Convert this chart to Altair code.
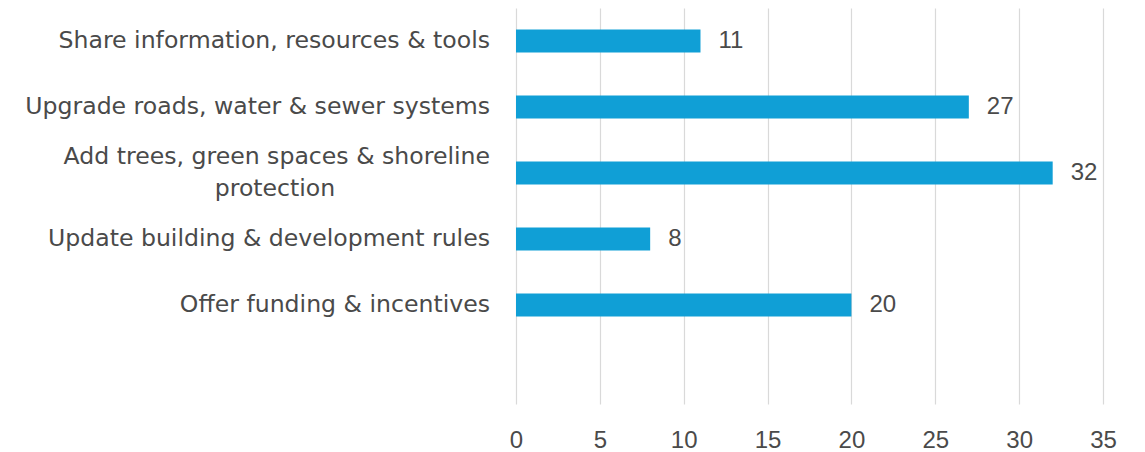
import altair as alt
import pandas as pd

categories = [
    "Share information, resources & tools",
    "Upgrade roads, water & sewer systems",
    "Add trees, green spaces & shoreline protection",
    "Update building & development rules",
    "Offer funding & incentives",
]
values = [11, 27, 32, 8, 20]
line1 = [
    "Share information, resources & tools",
    "Upgrade roads, water & sewer systems",
    "Add trees, green spaces & shoreline",
    "Update building & development rules",
    "Offer funding & incentives",
]
line2 = ["", "", "protection", "", ""]
x_ticks = [0, 5, 10, 15, 20, 25, 30, 35]

domain = categories + [" "]

df = pd.DataFrame({"cat": categories, "val": values, "l1": line1, "l2": line2})

LFONT = "DejaVu Sans"
LFS = 23.6
NFONT = "Liberation Sans"
NFS = 24
TXT = "#4a4a4a"
BLUE = "#109FD6"

y_enc = alt.Y("cat:N", sort=domain,
              scale=alt.Scale(domain=domain, paddingInner=0.65, paddingOuter=0.325),
              axis=None)
x_enc = alt.X("val:Q",
              scale=alt.Scale(domain=[0, 35], nice=False),
              axis=alt.Axis(values=x_ticks, title=None, domain=False, ticks=False,
                            grid=True, gridColor="#d9d9d9", gridWidth=1.2,
                            labelFont=NFONT, labelFontSize=NFS, labelColor=TXT,
                            labelFlush=False, labelPadding=24))

base = alt.Chart(df)

bars = base.mark_bar(color=BLUE).encode(x=x_enc, y=y_enc)

vals = base.mark_text(align="left", baseline="middle", dx=18, font=NFONT,
                      fontSize=NFS, color=TXT).encode(
    x="val:Q", y=alt.Y("cat:N", sort=domain), text="val:Q")

single = base.transform_filter("datum.l2 == ''").mark_text(
    align="right", baseline="middle", font=LFONT, fontSize=LFS, color=TXT).encode(
    x=alt.value(-26), y=alt.Y("cat:N", sort=domain), text="l1:N")

multi1 = base.transform_filter("datum.l2 != ''").mark_text(
    align="right", baseline="middle", dy=-16, font=LFONT, fontSize=LFS, color=TXT).encode(
    x=alt.value(-26), y=alt.Y("cat:N", sort=domain), text="l1:N")

multi2 = base.transform_filter("datum.l2 != ''").mark_text(
    align="center", baseline="middle", dy=16, font=LFONT, fontSize=LFS, color=TXT).encode(
    x=alt.value(-241), y=alt.Y("cat:N", sort=domain), text="l2:N")

chart = alt.layer(bars, vals, single, multi1, multi2).properties(
    width=587, height=396,
    autosize=alt.AutoSizeParams(type="none"),
    padding={"left": 508, "top": 0, "right": 30, "bottom": 60},
).configure(background="white", view=alt.ViewConfig(stroke=None))

chart.save("out.html", embed_options={"renderer": "svg", "actions": False})
